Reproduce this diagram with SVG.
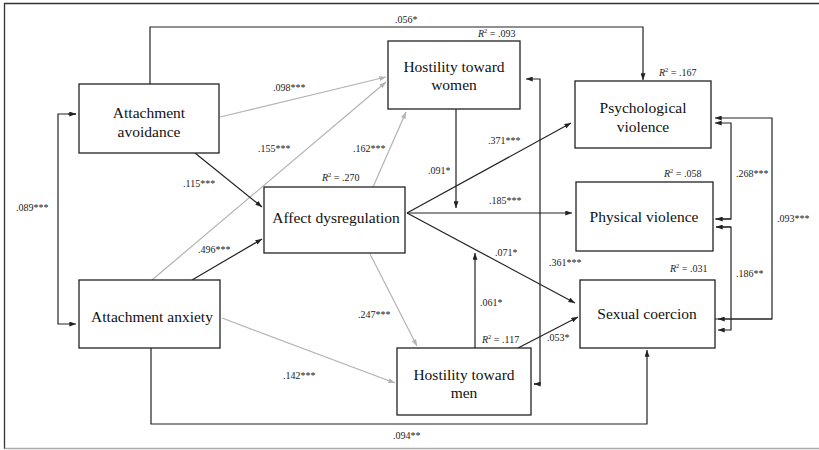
<svg xmlns="http://www.w3.org/2000/svg" width="819" height="450" viewBox="0 0 819 450">
<style>
.node rect{fill:#fff;stroke:#222;stroke-width:1.3}
.node text{font-family:"Liberation Serif","Times New Roman",serif;font-size:15.5px;fill:#111;text-anchor:middle}
.lbl{font-family:"Liberation Serif","Times New Roman",serif;font-size:10px;fill:#222}
.r2{font-family:"Liberation Serif","Times New Roman",serif;font-size:10px;fill:#222}
.blk{fill:none;stroke:#222;stroke-width:1.2}
.gry{fill:none;stroke:#b3b3b3;stroke-width:1.2}
</style>
<defs>
<marker id="ab" viewBox="0 0 8 6" refX="8" refY="3" markerWidth="7" markerHeight="5" markerUnits="userSpaceOnUse" orient="auto"><path d="M0,0 L8,3 L0,6 z" fill="#222"/></marker>
<marker id="ag" viewBox="0 0 8 6" refX="8" refY="3" markerWidth="7" markerHeight="5" markerUnits="userSpaceOnUse" orient="auto"><path d="M0,0 L8,3 L0,6 z" fill="#b3b3b3"/></marker>
</defs>
<rect x="0" y="0" width="819" height="450" fill="#fff"/>
<path d="M4.5,449 V3.5 H819" fill="none" stroke="#333" stroke-width="1.3"/>
<path d="M4.5,448.5 H819" fill="none" stroke="#aaa" stroke-width="1.3"/>

<g id="connectors">
<path class="gry" d="M220,117 L386,77" marker-end="url(#ag)"/>
<path class="gry" d="M152,280 L386,82" marker-end="url(#ag)"/>
<path class="gry" d="M373,187 L406,112" marker-end="url(#ag)"/>
<path class="gry" d="M222,318 L395,383" marker-end="url(#ag)"/>
<path class="gry" d="M370,254 L417,346" marker-end="url(#ag)"/>
<path class="blk" d="M150,84 V27 H643 V80" marker-end="url(#ab)"/>
<path class="blk" d="M76,114 H58 V324 H76" marker-end="url(#ab)"/>
<path class="blk" d="M68,114 H76" marker-end="url(#ab)"/>
<path class="blk" d="M195,153 L262,207" marker-end="url(#ab)"/>
<path class="blk" d="M192,280 L262,239" marker-end="url(#ab)"/>
<path class="blk" d="M151,348 V424 H647 V350" marker-end="url(#ab)"/>
<path class="blk" d="M456,109 V208" marker-end="url(#ab)"/>
<path class="blk" d="M407,213 L571,123" marker-end="url(#ab)"/>
<path class="blk" d="M407,213 H572" marker-end="url(#ab)"/>
<path class="blk" d="M407,213 L575,303" marker-end="url(#ab)"/>
<path class="blk" d="M475,348 V253" marker-end="url(#ab)"/>
<path class="blk" d="M518,348 L578,317" marker-end="url(#ab)"/>
<path class="blk" d="M534,384 H540 V79 H526" marker-end="url(#ab)"/>
<path class="blk" d="M540,384 H534" marker-end="url(#ab)"/>
<path class="blk" d="M715,219 H731 V123 H715" marker-end="url(#ab)"/>
<path class="blk" d="M731,219 H716" marker-end="url(#ab)"/>
<path class="blk" d="M715,319 H772 V118 H715" marker-end="url(#ab)"/>
<path class="blk" d="M772,319 H718" marker-end="url(#ab)"/>
<path class="blk" d="M716,227 H731 V330 H718" marker-end="url(#ab)"/>
<path class="blk" d="M731,227 H716" marker-end="url(#ab)"/>
<text class="lbl" x="395" y="23">.056*</text>
<text class="lbl" x="16" y="211">.089***</text>
<text class="lbl" x="273" y="91">.098***</text>
<text class="lbl" x="258" y="152">.155***</text>
<text class="lbl" x="353" y="152">.162***</text>
<text class="lbl" x="183" y="187">.115***</text>
<text class="lbl" x="198" y="253">.496***</text>
<text class="lbl" x="283" y="379">.142***</text>
<text class="lbl" x="358" y="318">.247***</text>
<text class="lbl" x="393" y="439">.094**</text>
<text class="lbl" x="428" y="174">.091*</text>
<text class="lbl" x="488" y="144">.371***</text>
<text class="lbl" x="489" y="204">.185***</text>
<text class="lbl" x="495" y="256">.071*</text>
<text class="lbl" x="549" y="266">.361***</text>
<text class="lbl" x="480" y="306">.061*</text>
<text class="lbl" x="547" y="341">.053*</text>
<text class="lbl" x="736" y="177">.268***</text>
<text class="lbl" x="777" y="222">.093***</text>
<text class="lbl" x="736" y="277">.186**</text>
<text class="r2" x="322" y="181"><tspan font-style="italic">R</tspan><tspan font-size="6.5" dy="-4">2</tspan><tspan dy="4"> = .270</tspan></text>
<text class="r2" x="478" y="37"><tspan font-style="italic">R</tspan><tspan font-size="6.5" dy="-4">2</tspan><tspan dy="4"> = .093</tspan></text>
<text class="r2" x="659" y="76"><tspan font-style="italic">R</tspan><tspan font-size="6.5" dy="-4">2</tspan><tspan dy="4"> = .167</tspan></text>
<text class="r2" x="664" y="177"><tspan font-style="italic">R</tspan><tspan font-size="6.5" dy="-4">2</tspan><tspan dy="4"> = .058</tspan></text>
<text class="r2" x="670" y="272"><tspan font-style="italic">R</tspan><tspan font-size="6.5" dy="-4">2</tspan><tspan dy="4"> = .031</tspan></text>
<text class="r2" x="482" y="343"><tspan font-style="italic">R</tspan><tspan font-size="6.5" dy="-4">2</tspan><tspan dy="4"> = .117</tspan></text>
</g>

<g id="node-avoidance" class="node"><rect x="79" y="84" width="140" height="69"/><text x="149" y="118">Attachment</text><text x="149" y="137">avoidance</text></g>
<g id="node-anxiety" class="node"><rect x="79" y="280" width="141" height="68"/><text x="152" y="322">Attachment anxiety</text></g>
<g id="node-affect" class="node"><rect x="264" y="187" width="141" height="66"/><text x="336" y="223">Affect dysregulation</text></g>
<g id="node-htw" class="node"><rect x="388" y="41" width="132" height="68"/><text x="454" y="72">Hostility toward</text><text x="454" y="90">women</text></g>
<g id="node-htm" class="node"><rect x="397" y="348" width="134" height="67"/><text x="464" y="380">Hostility toward</text><text x="464" y="398">men</text></g>
<g id="node-psych" class="node"><rect x="575" y="81" width="136" height="67"/><text x="643" y="113">Psychological</text><text x="643" y="132">violence</text></g>
<g id="node-phys" class="node"><rect x="576" y="182" width="137" height="69"/><text x="644" y="222">Physical violence</text></g>
<g id="node-sexual" class="node"><rect x="580" y="280" width="135" height="68"/><text x="647" y="319">Sexual coercion</text></g>
</svg>
